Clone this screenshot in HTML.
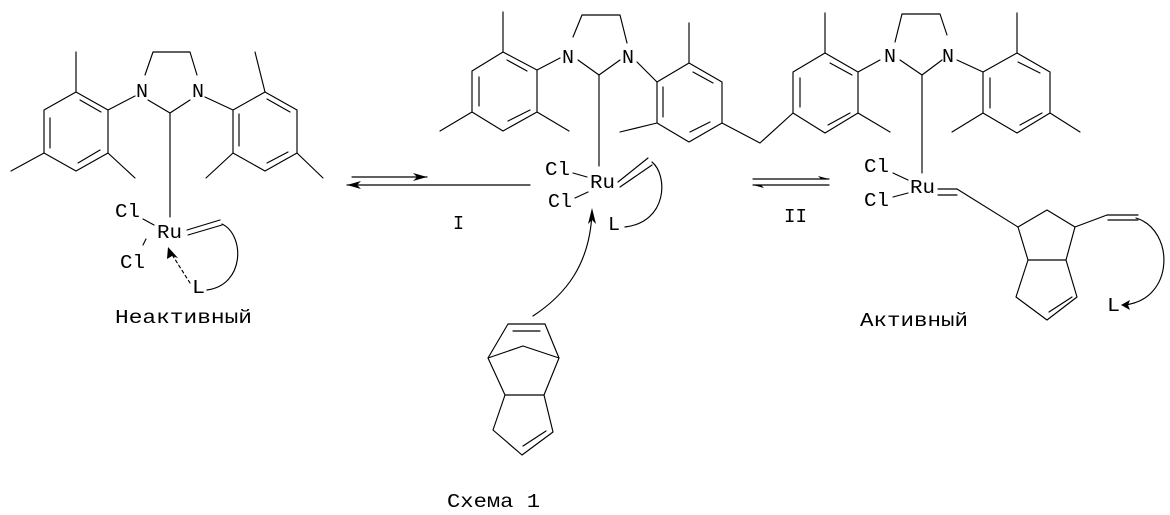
<!DOCTYPE html>
<html><head><meta charset="utf-8"><style>
html,body{margin:0;padding:0;background:#fff;}
svg{display:block}
text{font-family:"Liberation Mono","DejaVu Sans Mono",monospace;font-size:19px;fill:#000}
</style></head><body>
<svg width="1170" height="515" viewBox="0 0 1170 515" xmlns="http://www.w3.org/2000/svg">
<g stroke="#000" stroke-width="1.15" fill="none" stroke-linecap="round" stroke-linejoin="round">
<!-- LEFT MOLECULE -->
<polygon points="76,92 108,110 108,153 76,171 44,153 44,110"/>
<line x1="80" y1="100" x2="101" y2="112"/><line x1="50" y1="118" x2="50" y2="148"/><line x1="78" y1="163" x2="100" y2="150"/>
<line x1="76" y1="92" x2="76" y2="52"/><line x1="44" y1="153" x2="11" y2="171"/><line x1="108" y1="153" x2="135" y2="178"/>
<line x1="108" y1="110" x2="135" y2="96"/>
<polyline points="145,75 153,52 190,52 197,75"/>
<polyline points="148,100 170,113 190,100"/>
<line x1="170" y1="113" x2="170" y2="217"/>
<line x1="205" y1="97" x2="233" y2="110"/>
<polygon points="233,110 265,92 297,110 297,153 265,171 233,153"/>
<line x1="267" y1="99" x2="290" y2="112"/><line x1="239" y1="114" x2="239" y2="146"/><line x1="267" y1="163" x2="288" y2="152"/>
<line x1="265" y1="92" x2="255" y2="52"/><line x1="233" y1="153" x2="206" y2="178"/><line x1="297" y1="153" x2="323" y2="178"/>
<line x1="143" y1="219" x2="154" y2="225"/><line x1="146" y1="239" x2="143" y2="245"/>
<line x1="187" y1="230" x2="220" y2="220"/><line x1="188" y1="235" x2="222" y2="225"/>
<path d="M222,224 C245,235 245,285 207,290"/>
<line x1="190" y1="283" x2="171" y2="253" stroke-dasharray="3,3"/>
<!-- ARROWS I -->
<line x1="352" y1="177" x2="427" y2="177"/>
<line x1="347" y1="185" x2="530" y2="185"/>
<!-- ARROWS II -->
<line x1="753" y1="179" x2="829" y2="179"/>
<line x1="753" y1="185" x2="829" y2="185"/>
<!-- MIDDLE MOLECULE -->
<polygon points="503,52 537,70 537,112 503,131 472,112 472,71"/>
<line x1="507" y1="60" x2="527" y2="71"/><line x1="479" y1="77" x2="479" y2="106"/><line x1="508" y1="121" x2="530" y2="110"/>
<line x1="503" y1="52" x2="503" y2="12"/><line x1="472" y1="112" x2="440" y2="131"/><line x1="537" y1="112" x2="569" y2="131"/>
<line x1="537" y1="70" x2="560" y2="58"/>
<polyline points="573,37 582,15 620,15 627,43"/>
<polyline points="578,60 599,75 620,60"/>
<line x1="599" y1="75" x2="599" y2="166"/>
<line x1="637" y1="62" x2="657" y2="82"/>
<polygon points="657,82 689,63 722,82 722,123 689,142 657,123"/>
<line x1="693" y1="72" x2="713" y2="83"/><line x1="663" y1="87" x2="663" y2="117"/><line x1="690" y1="132" x2="710" y2="122"/>
<line x1="689" y1="63" x2="689" y2="23"/><line x1="657" y1="123" x2="620" y2="132"/>
<polyline points="722,123 760,143 793,113"/>
<line x1="573" y1="173" x2="587" y2="177"/><line x1="575" y1="198" x2="588" y2="192"/>
<line x1="618" y1="182" x2="648" y2="158"/><line x1="620" y1="187" x2="652" y2="165"/>
<path d="M652,162 C668,175 668,222 625,227"/>
<path d="M533,316 C565,295 590,265 592,212"/>
<!-- norbornene -->
<polygon points="508,324 545,324 559,358 544,395 505,395 488,358"/>
<polyline points="488,358 523,346 559,358"/>
<line x1="513" y1="331" x2="540" y2="331"/>
<polyline points="505,395 493,430 522,455 553,432 544,395"/>
<line x1="523" y1="446" x2="546" y2="431"/>
<!-- RIGHT MOLECULE -->
<polygon points="825,53 858,72 858,113 825,133 793,113 793,72"/>
<line x1="830" y1="63" x2="852" y2="75"/><line x1="800" y1="78" x2="800" y2="107"/><line x1="828" y1="125" x2="850" y2="113"/>
<line x1="825" y1="53" x2="825" y2="13"/><line x1="858" y1="113" x2="890" y2="132"/>
<line x1="858" y1="72" x2="880" y2="60"/>
<polyline points="895,42 902,14 940,14 947,35"/>
<polyline points="900,60 922,75 942,60"/>
<line x1="922" y1="75" x2="922" y2="173"/>
<line x1="957" y1="60" x2="983" y2="72"/>
<polygon points="983,72 1017,53 1050,72 1050,113 1017,133 983,113"/>
<line x1="1018" y1="62" x2="1040" y2="73"/><line x1="990" y1="78" x2="990" y2="108"/><line x1="1020" y1="125" x2="1042" y2="113"/>
<line x1="1017" y1="53" x2="1017" y2="13"/><line x1="983" y1="113" x2="952" y2="132"/><line x1="1050" y1="113" x2="1080" y2="132"/>
<line x1="893" y1="173" x2="908" y2="180"/><line x1="893" y1="197" x2="908" y2="193"/>
<line x1="938" y1="189" x2="957" y2="189"/><line x1="938" y1="195" x2="957" y2="195"/>
<line x1="957" y1="189" x2="1018" y2="227"/>
<polygon points="1018,227 1047,210 1075,227 1066,260 1028,260"/>
<polyline points="1028,260 1016,297 1047,320 1077,297 1066,260"/>
<line x1="1049" y1="312" x2="1072" y2="297"/>
<line x1="1075" y1="227" x2="1107" y2="215"/>
<line x1="1107" y1="215" x2="1138" y2="215"/><line x1="1108" y1="220" x2="1138" y2="220"/>
<path d="M1136,218 C1175,230 1175,300 1124,305"/>
</g>
<g fill="#000">
<polygon points="427,177 413,173 417,177 413,181"/>
<polygon points="347,185 361,181 357,185 361,189"/>
<polygon points="829,179 818,176 821,179"/>
<polygon points="753,185 764,188 761,185"/>
<polygon points="168,247 178,258 172,256 167,259"/>
<polygon points="592,208 588,224 592,220 596,224"/>
<polygon points="1121,305 1130,300 1128,305 1130,310"/>
</g>
<text x="115" y="217" textLength="25" lengthAdjust="spacingAndGlyphs">Cl</text>
<text x="157" y="238" textLength="25" lengthAdjust="spacingAndGlyphs">Ru</text>
<text x="120" y="268" textLength="25" lengthAdjust="spacingAndGlyphs">Cl</text>
<text x="192" y="293" textLength="13" lengthAdjust="spacingAndGlyphs">L</text>
<text x="136" y="97" textLength="12" lengthAdjust="spacingAndGlyphs">N</text>
<text x="192" y="97" textLength="12" lengthAdjust="spacingAndGlyphs">N</text>
<text x="115" y="323" textLength="137" lengthAdjust="spacingAndGlyphs">Неактивный</text>
<text x="453" y="229" textLength="11" lengthAdjust="spacingAndGlyphs">I</text>
<text x="562" y="63" textLength="12" lengthAdjust="spacingAndGlyphs">N</text>
<text x="622" y="63" textLength="12" lengthAdjust="spacingAndGlyphs">N</text>
<text x="545" y="175" textLength="25" lengthAdjust="spacingAndGlyphs">Cl</text>
<text x="590" y="188" textLength="25" lengthAdjust="spacingAndGlyphs">Ru</text>
<text x="548" y="207" textLength="24" lengthAdjust="spacingAndGlyphs">Cl</text>
<text x="608" y="230" textLength="12" lengthAdjust="spacingAndGlyphs">L</text>
<text x="784" y="222" textLength="23" lengthAdjust="spacingAndGlyphs">II</text>
<text x="884" y="62" textLength="12" lengthAdjust="spacingAndGlyphs">N</text>
<text x="942" y="62" textLength="12" lengthAdjust="spacingAndGlyphs">N</text>
<text x="864" y="172" textLength="25" lengthAdjust="spacingAndGlyphs">Cl</text>
<text x="910" y="193" textLength="25" lengthAdjust="spacingAndGlyphs">Ru</text>
<text x="864" y="206" textLength="25" lengthAdjust="spacingAndGlyphs">Cl</text>
<text x="1107" y="311" textLength="13" lengthAdjust="spacingAndGlyphs">L</text>
<text x="860" y="326" textLength="108" lengthAdjust="spacingAndGlyphs">Активный</text>
<text x="447" y="507" textLength="93" lengthAdjust="spacingAndGlyphs">Схема 1</text>
</svg>
</body></html>
